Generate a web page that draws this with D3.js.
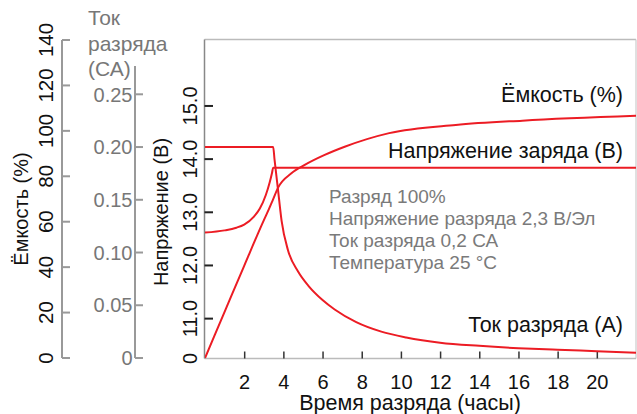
<!DOCTYPE html>
<html><head><meta charset="utf-8">
<script src="https://cdn.jsdelivr.net/npm/d3@7"></script>
<style>
html,body{margin:0;padding:0;background:#fff;}
svg{display:block;font-family:"Liberation Sans",Arial,Helvetica,sans-serif;}
</style></head>
<body>
<svg id="c" width="637" height="414"></svg>
<script>
// ---- data ----
const hourTicks = [2,4,6,8,10,12,14,16,18,20];
const voltTicks = [11.0,12.0,13.0,14.0,15.0];
const capTicks = [0,20,40,60,80,100,120,140];
const curTicks = [0,0.05,0.10,0.15,0.20,0.25];
const curTickLabels = ["0","0.05","0.10","0.15","0.20","0.25"];

const capHours  = [0, 1.0, 2.0, 3.0, 3.25, 3.45, 3.73, 4.41, 5.09, 6.11, 7.13, 9.4, 12.8, 16.2, 22];
const capValues = [0, 20.3, 40.6, 60.6, 65.3, 69.3, 75.0, 81.3, 85.0, 89.4, 93.0, 99.0, 102.6, 104.5, 106.6];

const voltHours  = [0, 1.0, 1.6, 2.0, 2.5, 2.8, 3.1, 3.3, 3.42, 3.48, 22];
const voltValues = [12.62, 12.66, 12.71, 12.77, 12.92, 13.07, 13.32, 13.56, 13.74, 13.84, 13.84];

const curHours  = [0, 3.48, 3.55, 3.73, 3.91, 4.24, 4.75, 5.3, 6.0, 6.62, 7.72, 9.0, 10.27, 12, 14, 16, 18, 20, 22];
const curValues = [0.20, 0.20, 0.188, 0.159, 0.130, 0.102, 0.082, 0.068, 0.055, 0.046, 0.034, 0.025, 0.0195, 0.0145, 0.0115, 0.0093, 0.0078, 0.0065, 0.0050];

const notes = ["Разряд 100%", "Напряжение разряда 2,3 В/Эл", "Ток разряда 0,2 СА", "Температура 25 °С"];

// ---- drawing ----
const svg = d3.select("#c");
const red = "#ec1c24";
const L = 205, R = 636, T = 39.5, B = 358.5;

const x = d3.scaleLinear().domain([0,22]).range([L,R]);
const yV = d3.scaleLinear().domain([10.25,16.25]).range([B,T]);
const yC = d3.scaleLinear().domain([0,140]).range([358,40]);
const yI = d3.scaleLinear().domain([0,0.25]).range([358,94.3]);

// frame
svg.append("line").attr("x1",204.5).attr("x2",R).attr("y1",T).attr("y2",T).attr("stroke","#bbb").attr("stroke-width",1.5);
svg.append("line").attr("x1",R).attr("x2",R).attr("y1",T).attr("y2",B).attr("stroke","#ccc").attr("stroke-width",1.2);
svg.append("line").attr("x1",204.5).attr("x2",R).attr("y1",B).attr("y2",B).attr("stroke","#bbb").attr("stroke-width",1.5);
svg.append("line").attr("x1",204.5).attr("x2",204.5).attr("y1",T).attr("y2",B).attr("stroke","#888").attr("stroke-width",1.5);

// x axis (ticks inside, pointing up)
const xAxis = d3.axisBottom(x).tickValues(hourTicks).tickSizeInner(-7).tickSizeOuter(0).tickPadding(16).tickFormat(d3.format("d"));
const gx = svg.append("g").attr("transform",`translate(0,${B})`).call(xAxis);
gx.select(".domain").remove();
gx.selectAll(".tick line").attr("stroke","#333").attr("stroke-width",1.5);
gx.selectAll(".tick text").attr("fill","#111").attr("font-size",20).attr("font-family","Liberation Sans, Arial, sans-serif");

svg.append("text").attr("x",410).attr("y",409.5).attr("text-anchor","middle")
  .attr("font-size",21.5).attr("fill","#111").text("Время разряда (часы)");

// voltage axis (ticks inside, rotated labels)
const gv = svg.append("g");
voltTicks.forEach(v=>{
  gv.append("line").attr("x1",204.5).attr("x2",213).attr("y1",yV(v)).attr("y2",yV(v)).attr("stroke","#222").attr("stroke-width",2);
  gv.append("text").attr("transform",`translate(197,${yV(v)}) rotate(-90)`).attr("text-anchor","middle")
    .attr("font-size",20).attr("fill","#111").text(d3.format(".1f")(v));
});
gv.append("text").attr("transform",`translate(197,${yV(10.25)}) rotate(-90)`).attr("text-anchor","middle")
  .attr("font-size",20).attr("fill","#111").text("0");
svg.append("text").attr("transform",`translate(167.5,212) rotate(-90)`).attr("text-anchor","middle")
  .attr("font-size",20).attr("fill","#111").text("Напряжение (В)");

// capacity axis
const gc = svg.append("g");
gc.append("line").attr("x1",62).attr("x2",62).attr("y1",yC(140)).attr("y2",yC(0)).attr("stroke","#999").attr("stroke-width",2);
capTicks.forEach(v=>{
  gc.append("line").attr("x1",62).attr("x2",70).attr("y1",yC(v)).attr("y2",yC(v)).attr("stroke","#999").attr("stroke-width",2);
  gc.append("text").attr("transform",`translate(52.5,${yC(v)}) rotate(-90)`).attr("text-anchor","middle")
    .attr("font-size",20.5).attr("fill","#111").text(v);
});
svg.append("text").attr("transform",`translate(28,209) rotate(-90)`).attr("text-anchor","middle")
  .attr("font-size",20).attr("fill","#111").text("Ёмкость (%)");

// current axis
const gi = svg.append("g");
gi.append("line").attr("x1",135).attr("x2",135).attr("y1",66).attr("y2",yI(0)).attr("stroke","#999").attr("stroke-width",2);
curTicks.forEach((v,k)=>{
  gi.append("line").attr("x1",135).attr("x2",143).attr("y1",yI(v)).attr("y2",yI(v)).attr("stroke","#999").attr("stroke-width",2);
  gi.append("text").attr("x",132.5).attr("y",yI(v)).attr("dy","0.36em").attr("text-anchor","end")
    .attr("font-size",20).attr("fill","#777").text(curTickLabels[k]);
});
const curTitle = ["Ток","разряда","(СА)"];
curTitle.forEach((s,k)=>{
  svg.append("text").attr("x",88).attr("y",25+k*25.5).attr("font-size",21).attr("fill","#777").text(s);
});

// curves
svg.append("clipPath").attr("id","pc").append("rect").attr("x",L).attr("y",T).attr("width",R-L).attr("height",B-T);
const g = svg.append("g").attr("clip-path","url(#pc)");
const lineC = d3.line().x(d=>x(d[0])).y(d=>yC(d[1])).curve(d3.curveMonotoneX);
const lineV = d3.line().x(d=>x(d[0])).y(d=>yV(d[1])).curve(d3.curveMonotoneX);
const lineI = d3.line().x(d=>x(d[0])).y(d=>yI(d[1])).curve(d3.curveMonotoneX);
g.append("path").attr("d",lineV(d3.zip(voltHours,voltValues))).attr("fill","none").attr("stroke",red).attr("stroke-width",2);
g.append("path").attr("d",lineI(d3.zip(curHours,curValues))).attr("fill","none").attr("stroke",red).attr("stroke-width",2);
g.append("path").attr("d",lineC(d3.zip(capHours,capValues))).attr("fill","none").attr("stroke",red).attr("stroke-width",2);

// series labels
svg.append("text").attr("x",623).attr("y",101.7).attr("text-anchor","end").attr("font-size",21.5).attr("fill","#111").text("Ёмкость (%)");
svg.append("text").attr("x",623).attr("y",158).attr("text-anchor","end").attr("font-size",21.5).attr("fill","#111").text("Напряжение заряда (В)");
svg.append("text").attr("x",623).attr("y",331.7).attr("text-anchor","end").attr("font-size",21.5).attr("fill","#111").text("Ток разряда (А)");

// notes
notes.forEach((s,k)=>{
  svg.append("text").attr("x",329).attr("y",203.3+k*22).attr("font-size",19).attr("fill","#7a7a7a").text(s);
});
</script>
</body></html>
